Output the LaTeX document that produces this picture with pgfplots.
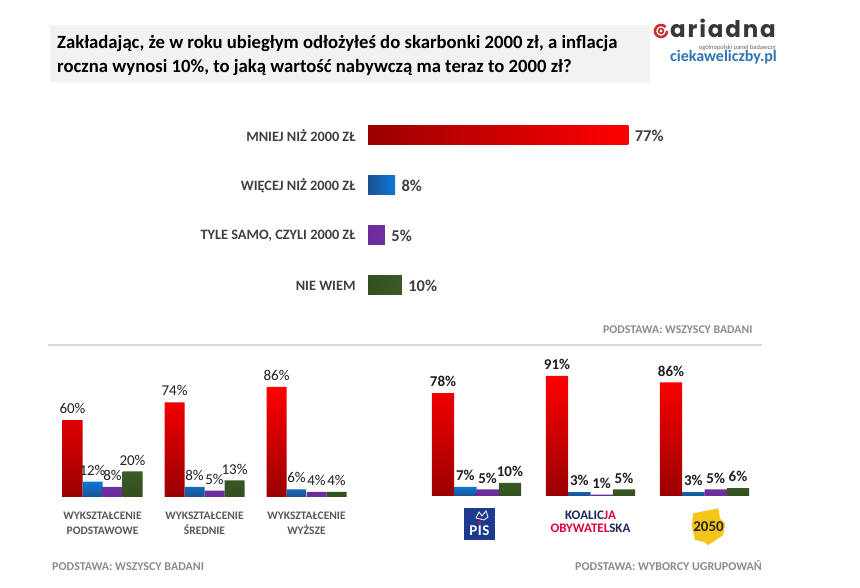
\documentclass[border=0pt]{standalone}
\usepackage{fontspec}
\setmainfont{Carlito}
\newfontfamily\poppins[LetterSpace=8]{Poppins}
\usepackage{pgfplots}
\pgfplotsset{compat=1.18}
\definecolor{lab}{HTML}{404040}
\definecolor{cat}{HTML}{595959}
\definecolor{pod}{HTML}{8C8C8C}
\definecolor{rdark}{HTML}{990000}
\definecolor{rbright}{HTML}{FF0000}
\definecolor{bdark}{HTML}{1D4F91}
\definecolor{blight}{HTML}{0A7AD6}
\definecolor{purp}{HTML}{7030A0}
\definecolor{purpd}{HTML}{6A2C99}
\definecolor{grn}{HTML}{3A5A26}
\definecolor{grnd}{HTML}{33501F}
\definecolor{titbg}{HTML}{F2F2F2}
\definecolor{sepc}{HTML}{D9D9D9}
\definecolor{navy}{HTML}{1B2A5C}
\definecolor{pink}{HTML}{E0003C}
\definecolor{pisblue}{HTML}{1C3A8E}
\definecolor{yel}{HTML}{F5C518}
\definecolor{logored}{HTML}{C9302C}
\definecolor{webblue}{HTML}{2E75B6}
\newcommand{\fs}[1]{\fontsize{#1bp}{#1bp}\selectfont}
\pgfplotsset{/pgf/number format/assume math mode=true}
\begin{document}
\begin{tikzpicture}[x=1bp,y=1bp]
\path[use as bounding box, fill=white] (0,0) rectangle (860,588);
% title box
\fill[titbg] (50,506) rectangle (650,563);
\node[anchor=base west, inner sep=0pt, text=black] at (57,539) {\fs{18.7}\bfseries Zakładając, że w roku ubiegłym odłożyłeś do skarbonki 2000 zł, a inflacja};
\node[anchor=base west, inner sep=0pt, text=black] at (57,515) {\fs{18.7}\bfseries roczna wynosi 10\%, to jaką wartość nabywczą ma teraz to 2000 zł?};
% logo
\draw[logored, line width=2.6bp] (661,557) ++(40:6) arc (40:360:6);
\draw[logored, line width=1.7bp] (661,557) circle (2.4);
\node[anchor=base west, inner sep=0pt, text=black!78] at (670,550) {\poppins\bfseries\fs{23}ariadna};
\node[anchor=base east, inner sep=0pt, text=black!60] at (776,538) {\fs{6.5}ogólnopolski panel badawczy};
\node[anchor=base west, inner sep=0pt, text=webblue] at (670,526) {\fs{16}\bfseries ciekaweliczby.pl};

% top chart
\begin{axis}[
  at={(368bp,277.5bp)}, anchor=south west,
  scale only axis, width=338bp, height=200bp,
  xbar, bar width=19bp,
  xmin=0, xmax=100, ymin=-0.5, ymax=3.5, y dir=reverse,
  ytick={0,1,2,3},
  yticklabels={MNIEJ NIŻ 2000 ZŁ, WIĘCEJ NIŻ 2000 ZŁ, {TYLE SAMO, CZYLI 2000 ZŁ}, NIE WIEM},
  yticklabel style={font=\bfseries\fs{14.3}, text=lab, xshift=-9bp},
  xtick=\empty,
  axis line style={draw=none}, major tick length=0pt,
  point meta=x,
  nodes near coords={\pgfmathprintnumber{\pgfplotspointmeta}\%},
  every node near coord/.append style={font=\bfseries\fs{16.5}, text=lab, xshift=3bp},
  clip=false,
]
\addplot[bar shift=0pt, draw=none, left color=rdark, right color=rbright] coordinates {(77,0)};
\addplot[bar shift=0pt, draw=none, left color=bdark, right color=blight] coordinates {(8,1)};
\addplot[bar shift=0pt, draw=none, left color=purpd, right color=purp] coordinates {(5,2)};
\addplot[bar shift=0pt, draw=none, left color=grnd, right color=grn] coordinates {(10,3)};
\end{axis}
\node[anchor=base west, inner sep=0pt, text=pod] at (603,254) {\fs{11.8}\bfseries PODSTAWA: WSZYSCY BADANI};
\draw[sepc, line width=1.5bp] (48,243) -- (762,243);

% bottom left
\begin{axis}[
  at={(51.5bp,91bp)}, anchor=south west,
  scale only axis, width=306bp, height=128bp,
  ybar=0pt, bar width=20bp,
  xmin=-0.5, xmax=2.5, ymin=0, ymax=100,
  xtick={0,1,2},
  xticklabels={{WYKSZTAŁCENIE\\PODSTAWOWE},{WYKSZTAŁCENIE\\ŚREDNIE},{WYKSZTAŁCENIE\\WYŻSZE}},
  xticklabel style={align=center, font=\bfseries\fontsize{11.5bp}{15bp}\selectfont, text=cat, yshift=-11bp},
  hide y axis, axis x line*=bottom, x axis line style={draw=none}, major tick length=0pt,
  point meta=y,
  nodes near coords={\pgfmathprintnumber{\pgfplotspointmeta}\%},
  every node near coord/.append style={font=\fs{15}, text=black!88, inner sep=2bp, yshift=4bp},
  clip=false,
]
\addplot[draw=none, bottom color=rdark, top color=rbright] coordinates {(0,60) (1,74) (2,86)};
\addplot[draw=none, bottom color=bdark, top color=blight] coordinates {(0,12) (1,8) (2,6)};
\addplot[draw=none, bottom color=purpd, top color=purp] coordinates {(0,8) (1,5) (2,4)};
\addplot[draw=none, bottom color=grnd, top color=grn] coordinates {(0,20) (1,13) (2,4)};
\end{axis}
\node[anchor=base west, inner sep=0pt, text=pod] at (52,17) {\fs{12}\bfseries PODSTAWA: WSZYSCY BADANI};

% bottom right
\begin{axis}[
  at={(419.5bp,92bp)}, anchor=south west,
  scale only axis, width=342bp, height=132bp,
  ybar=0pt, bar width=22.3bp,
  xmin=-0.5, xmax=2.5, ymin=0, ymax=100,
  xtick=\empty,
  hide y axis, axis x line*=bottom, x axis line style={draw=none}, major tick length=0pt,
  point meta=y,
  nodes near coords={\pgfmathprintnumber{\pgfplotspointmeta}\%},
  every node near coord/.append style={font=\bfseries\fs{15}, text=black!88, inner sep=2bp, yshift=4bp},
  clip=false,
]
\addplot[draw=none, bottom color=rdark, top color=rbright] coordinates {(0,78) (1,91) (2,86)};
\addplot[draw=none, bottom color=bdark, top color=blight] coordinates {(0,7) (1,3) (2,3)};
\addplot[draw=none, bottom color=purpd, top color=purp] coordinates {(0,5) (1,1) (2,5)};
\addplot[draw=none, bottom color=grnd, top color=grn] coordinates {(0,10) (1,5) (2,6)};
\end{axis}
\node[anchor=base west, inner sep=0pt, text=pod] at (575,17) {\fs{12}\bfseries PODSTAWA: WYBORCY UGRUPOWAŃ};

% PiS logo
\fill[pisblue] (464,48) rectangle (495,80);
\node[anchor=base, inner sep=0pt, text=white] at (479.5,52) {\fs{15}\bfseries P\hspace{0.5bp}\textcolor{white}{I}\hspace{0.5bp}S};
\fill[pink] (478.4,67) rectangle (480.6,63.5);
\draw[white, line width=0.8bp] (476,70) -- (479,76) -- (482,72) -- (486,77) -- (488,71) -- (484,68) -- cycle;
% KO logo
\node[anchor=base, inner sep=0pt] at (590.5,68) {\fs{13}\bfseries\textcolor{navy}{KOALIC}\textcolor{pink}{JA}};
\node[anchor=base, inner sep=0pt] at (590.5,55.5) {\fs{13}\bfseries\textcolor{pink}{OBYWATEL}\textcolor{navy}{SKA}};
% 2050 logo
\fill[yel] (693.3,74.7) -- (718.3,79.7) -- (720,69.7) -- (725,64.7) -- (723.3,53) -- (708.3,43) -- (703.3,46.3) -- (695,48) -- (691.7,63) -- cycle;
\node[anchor=base, inner sep=0pt, text=black!85] at (708.5,56) {\fs{15}\bfseries 2050};
\end{tikzpicture}
\end{document}
